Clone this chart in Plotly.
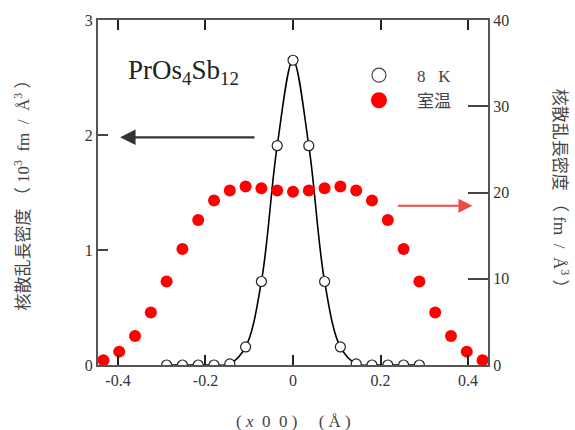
import plotly.graph_objects as go

# grid position index along (x 0 0), step in Å
STEP = 0.0361

# 8 K data (left axis, 10^3 fm/Å^3), indices -8..8
k_8K = list(range(-8, 9))
x_8K = [k * STEP for k in k_8K]
y_8K = [0, 0, 0, 0, 0.01, 0.157, 0.726, 1.907, 2.65, 1.907, 0.726, 0.157, 0.01, 0, 0, 0, 0]

# room temperature data (right axis, fm/Å^3), indices -12..12
k_RT = list(range(-12, 13))
x_RT = [k * STEP for k in k_RT]
y_RT = [0.55, 1.55, 3.37, 6.08, 9.69, 13.45, 16.8, 19.07, 20.23, 20.7, 20.5, 20.23, 20.1,
        20.23, 20.5, 20.7, 20.23, 19.07, 16.8, 13.45, 9.69, 6.08, 3.37, 1.55, 0.55]

x_ticks = [-0.4, -0.2, 0, 0.2, 0.4]
x_ticktext = ["-0.4", "-0.2", "0", "0.2", "0.4"]
y1_ticks = [0, 1, 2, 3]
y2_ticks = [0, 10, 20, 30, 40]

SERIF = "Liberation Serif, Noto Sans CJK JP"
TXT = "#333333"
AX = "#555555"
NB = "\u00a0"

fig = go.Figure()

# fitted curve through 8 K data
fig.add_trace(go.Scatter(x=x_8K, y=y_8K, mode="lines", line=dict(color="black", width=1.6, shape="spline", smoothing=1.0),
                         showlegend=False, hoverinfo="skip"))
fig.add_trace(go.Scatter(x=x_8K, y=y_8K, mode="markers", showlegend=False,
                         marker=dict(size=10, color="white", line=dict(color="#222222", width=1.2))))
fig.add_trace(go.Scatter(x=x_RT, y=y_RT, mode="markers", yaxis="y2", showlegend=False,
                         marker=dict(size=12, color="#ff0000", line=dict(width=0))))

# legend entries
fig.add_trace(go.Scatter(x=[None], y=[None], mode="markers", name="8" + NB * 3 + "K",
                         marker=dict(size=14, color="white", line=dict(color="#444444", width=1.2))))
fig.add_trace(go.Scatter(x=[None], y=[None], mode="markers", name="室温", yaxis="y2",
                         marker=dict(size=16, color="#ff0000", line=dict(width=0))))

fig.update_layout(
    width=575, height=430,
    margin=dict(l=98, r=87, t=20, b=65),
    paper_bgcolor="white", plot_bgcolor="white",
    font=dict(family=SERIF, size=16, color=TXT),
    showlegend=True,
    legend=dict(x=0.623, y=0.891, xanchor="left", yanchor="top", bgcolor="rgba(0,0,0,0)",
                font=dict(family=SERIF, size=17, color="#444444"), itemwidth=66, tracegroupgap=0),
    xaxis=dict(range=[-0.4456, 0.4456], tickvals=x_ticks, ticktext=x_ticktext,
               ticks="inside", ticklen=10, tickwidth=2, tickcolor="#222222",
               showline=True, linecolor=AX, linewidth=2, mirror="ticks",
               showgrid=False, zeroline=False, tickfont=dict(size=16, color=TXT)),
    yaxis=dict(range=[0, 3], tickvals=y1_ticks, ticks="inside", ticklen=10, tickwidth=2, tickcolor="#444444",
               showline=True, linecolor=AX, linewidth=2, showgrid=False, zeroline=False,
               tickfont=dict(size=16, color=TXT)),
    yaxis2=dict(range=[0, 40], tickvals=y2_ticks, overlaying="y", side="right",
                ticks="inside", ticklen=20, tickwidth=2, tickcolor="#444444",
                showline=True, linecolor=AX, linewidth=2, showgrid=False, zeroline=False,
                tickfont=dict(size=16, color=TXT)),
)

annotations = [
    dict(text="PrOs<sub>4</sub>Sb<sub>12</sub>", xref="paper", yref="paper", x=0.072, y=0.85,
         xanchor="left", yanchor="middle", showarrow=False, font=dict(family=SERIF, size=27, color="#222222")),
    # black arrow -> left axis
    dict(x=-0.395, y=1.98, ax=-0.0845, ay=1.98, xref="x", yref="y", axref="x", ayref="y",
         text="", showarrow=True, arrowhead=2, arrowsize=1.4, arrowwidth=2.2, arrowcolor="#333333"),
    # red arrow -> right axis
    dict(x=0.41, y=18.46, ax=0.2366, ay=18.46, xref="x", yref="y2", axref="x", ayref="y2",
         text="", showarrow=True, arrowhead=2, arrowsize=1.4, arrowwidth=2, arrowcolor="#f04848"),
    # axis titles
    dict(text="核散乱長密度" + NB + "（" + NB + "10<sup>3</sup>" + NB * 2 + "fm" + NB * 2 + "/" + NB * 2
         + "Å<sup>3</sup>" + NB + "）", xref="paper", yref="paper",
         x=-0.1956, y=0.505, textangle=-90, showarrow=False, xanchor="center", yanchor="middle",
         font=dict(family=SERIF, size=17, color="#444444")),
    dict(text="核散乱長密度" + NB + "（" + NB + "fm" + NB * 2 + "/" + NB * 2 + "Å<sup>3</sup>" + NB + "）",
         xref="paper", yref="paper",
         x=1.189, y=0.5, textangle=90, showarrow=False, xanchor="center", yanchor="middle",
         font=dict(family=SERIF, size=17, color="#444444")),
    dict(text="(" + NB + "<i>x</i>" + NB * 2 + "0" + NB * 2 + "0" + NB + ")" + NB * 5 + "(" + NB + "Å" + NB + ")",
         xref="paper", yref="paper", x=0.5, y=-0.164,
         showarrow=False, xanchor="center", yanchor="middle",
         font=dict(family=SERIF, size=17, color="#444444")),
]
fig.update_layout(annotations=annotations)

fig.write_html("out.html")
